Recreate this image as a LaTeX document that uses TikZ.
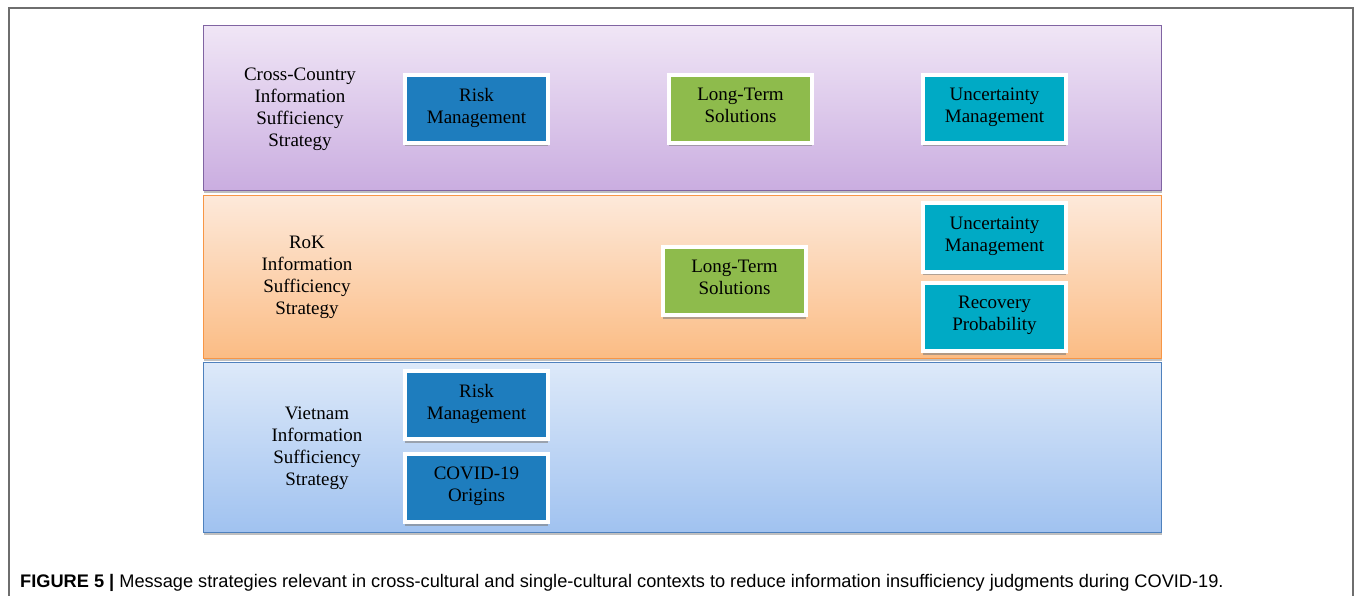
\documentclass[tikz,border=0pt]{standalone}
\usepackage{fontspec}
\setmainfont{Liberation Serif}
\setsansfont{Liberation Sans}
\usetikzlibrary{shadows}
\definecolor{purTop}{HTML}{F0E6F6}
\definecolor{purBot}{HTML}{CAADE0}
\definecolor{purLine}{HTML}{8064A2}
\definecolor{orTop}{HTML}{FDE9DA}
\definecolor{orBot}{HTML}{FBBC84}
\definecolor{orLine}{HTML}{F79646}
\definecolor{blTop}{HTML}{DDE9F9}
\definecolor{blBot}{HTML}{A0C2F0}
\definecolor{blLine}{HTML}{4F81BD}
\definecolor{riskC}{HTML}{1E7DBE}
\definecolor{longC}{HTML}{8EBB4C}
\definecolor{uncC}{HTML}{00AAC5}
\definecolor{frameC}{HTML}{6E6E6E}
\tikzset{
  band/.style={draw=#1, line width=1.3pt, inner sep=0pt, anchor=north west,
    drop shadow={shadow xshift=0pt, shadow yshift=-2pt, fill=gray, opacity=0.5}},
  boxstyle/.style={draw=white, line width=4pt, fill=#1, minimum width=143pt, minimum height=68pt,
    inner sep=0pt, align=center, font=\fontsize{19}{22}\selectfont,
    execute at begin node=\strut, execute at end node=\strut,
    drop shadow={shadow xshift=0pt, shadow yshift=-3.5pt, fill=gray, opacity=0.6}},
  lab/.style={align=center, font=\fontsize{19}{22}\selectfont, inner sep=0pt,
    execute at begin node=\strut, execute at end node=\strut},
}
\begin{document}
\begin{tikzpicture}[x=1pt, y=-1pt]
\useasboundingbox (0,0) rectangle (1355,596);
% outer frame
\coordinate (f1) at (9,596);
\coordinate (f2) at (9,8);
\coordinate (f3) at (1353,8);
\coordinate (f4) at (1353,596);
\draw[frameC, line width=1.2pt] (f1) -- (f2) -- (f3) -- (f4);
% bands
\node[band=purLine, top color=purTop, bottom color=purBot, minimum width=958pt, minimum height=165pt] (bandA) at (203,25) {};
\node[band=orLine, top color=orTop, bottom color=orBot, minimum width=958pt, minimum height=163pt] (bandB) at (203,195) {};
\node[band=blLine, top color=blTop, bottom color=blBot, minimum width=958pt, minimum height=170pt] (bandC) at (203,362) {};
% labels
\node[lab] (labA) at (300,111) {Cross-Country\\Information\\Sufficiency\\Strategy};
\node[lab] (labB) at (307,279) {RoK\\Information\\Sufficiency\\Strategy};
\node[lab] (labC) at (317,450) {Vietnam\\Information\\Sufficiency\\Strategy};
% boxes row 1
\node[boxstyle=riskC] (a1) at (476.5,109) {Risk\\Management};
\node[boxstyle=longC] (a2) at (740.5,109) {Long-Term\\Solutions};
\node[boxstyle=uncC] (a3) at (994.5,109) {Uncertainty\\Management};
% row 2
\node[boxstyle=longC] (b1) at (734.5,281) {Long-Term\\Solutions};
\node[boxstyle=uncC] (b2) at (994.5,237.5) {Uncertainty\\Management};
\node[boxstyle=uncC] (b3) at (994.5,317) {Recovery\\Probability};
% row 3
\node[boxstyle=riskC] (c1) at (476.5,405) {Risk\\Management};
\node[boxstyle=riskC] (c2) at (476.5,488) {COVID-19\\Origins};
% caption
\node[anchor=base west, inner sep=0pt, font=\sffamily\fontsize{18.2}{20}\selectfont] (cap) at (20,587)
  {\textbf{FIGURE 5 |} Message strategies relevant in cross-cultural and single-cultural contexts to reduce information insufficiency judgments during COVID-19.};
\end{tikzpicture}
\end{document}
